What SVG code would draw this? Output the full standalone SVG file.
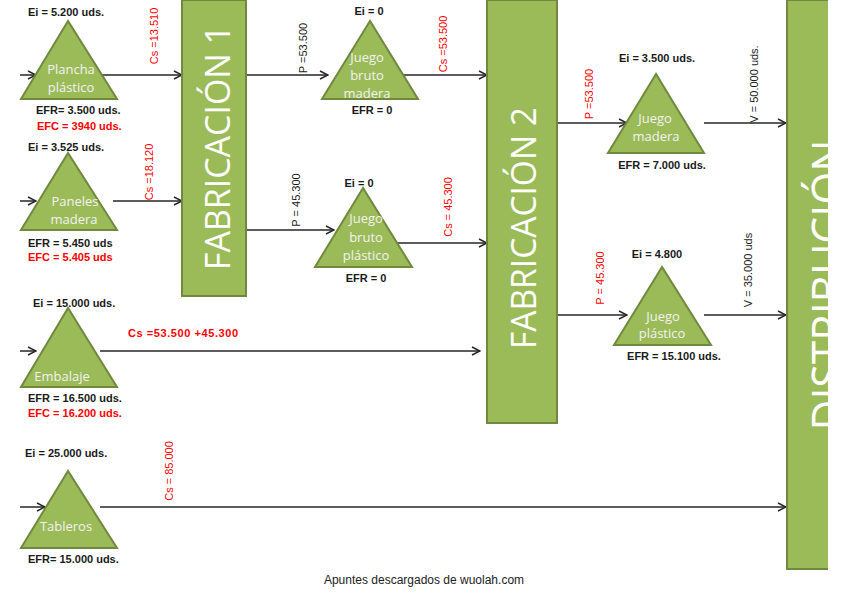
<svg xmlns="http://www.w3.org/2000/svg" width="848" height="599" viewBox="0 0 848 599">
<style>
.tri{fill:#9BBB59;stroke:#71893E;stroke-width:2;stroke-linejoin:miter}
.box{fill:#9BBB59;stroke:#71893E;stroke-width:2}
.tt{font-family:"Open Sans","Liberation Sans",sans-serif;font-size:13px;fill:#F2F2F2;text-anchor:middle}
.big{font-family:"Open Sans","Liberation Sans",sans-serif;font-weight:normal;fill:#FFFFFF;text-anchor:middle}
.lb{font-family:"Liberation Sans",Arial,sans-serif;font-size:11px;font-weight:bold;fill:#1A1A1A}
.rt{font-family:"Liberation Sans",Arial,sans-serif;font-size:11px;fill:#1A1A1A;text-anchor:middle}
.mid{text-anchor:middle}
.ln{stroke:#262626;stroke-width:1.5;fill:none;marker-end:url(#ah)}
.ft{font-family:"Liberation Sans",Arial,sans-serif;font-size:12px;fill:#222;text-anchor:middle}
.red{fill:#FF0000}
</style>
<defs>
<marker id="ah" markerWidth="10" markerHeight="10" refX="9" refY="5" orient="auto" markerUnits="userSpaceOnUse">
<path d="M1,1 L9,5 L1,9" fill="none" stroke="#262626" stroke-width="1.4"/>
</marker>
<clipPath id="pg"><rect x="0" y="0" width="828" height="599"/></clipPath>
</defs>
<rect width="848" height="599" fill="#FFFFFF"/>

<g id="connectors">
<path class="ln" d="M20,75 H36"/>
<path class="ln" d="M100,75 H182"/>
<path class="ln" d="M20,201 H36"/>
<path class="ln" d="M113,201 H182"/>
<path class="ln" d="M20,351 H36"/>
<path class="ln" d="M100,351 H480"/>
<path class="ln" d="M20,507 H45"/>
<path class="ln" d="M100,507 H786"/>
<path class="ln" d="M246,75 H328"/>
<path class="ln" d="M246,230 H334"/>
<path class="ln" d="M403,75 H487"/>
<path class="ln" d="M397,243 H487"/>
<path class="ln" d="M557,123 H627"/>
<path class="ln" d="M557,315 H627"/>
<path class="ln" d="M704,123 H786"/>
<path class="ln" d="M704,315 H786"/>
</g>

<g id="fabricacion1">
<rect class="box" x="182" y="0" width="64" height="296"/>
<text class="big" font-size="34" textLength="245" lengthAdjust="spacingAndGlyphs" transform="translate(230,147.5) rotate(-90)">FABRICACIÓN 1</text>
</g>

<g id="fabricacion2">
<rect class="box" x="487" y="0" width="70" height="423"/>
<text class="big" font-size="34" textLength="242" lengthAdjust="spacingAndGlyphs" transform="translate(536,228) rotate(-90)">FABRICACIÓN 2</text>
</g>

<g id="distribucion" clip-path="url(#pg)">
<rect class="box" x="787" y="0" width="50" height="569"/>
<text class="big" font-size="46" textLength="291" lengthAdjust="spacingAndGlyphs" transform="translate(845,285) rotate(-90)">DISTRIBUCIÓN</text>
</g>

<g id="plancha-plastico">
<polygon class="tri" points="68,21 21,99 117,99"/>
<text class="tt" x="71" y="74">Plancha</text>
<text class="tt" x="71" y="92">plástico</text>
<text class="lb" x="28" y="16">Ei = 5.200 uds.</text>
<text class="lb" x="36" y="114">EFR= 3.500 uds.</text>
<text class="lb red" x="37" y="130">EFC = 3940 uds.</text>
</g>

<g id="paneles-madera">
<polygon class="tri" points="68,153 21,230 117,230"/>
<text class="tt" x="75" y="206">Paneles</text>
<text class="tt" x="74" y="224">madera</text>
<text class="lb" x="28" y="151">Ei = 3.525 uds.</text>
<text class="lb" x="28" y="247">EFR = 5.450 uds</text>
<text class="lb red" x="28" y="261">EFC = 5.405 uds</text>
</g>

<g id="embalaje">
<polygon class="tri" points="68,308 21,387 117,387"/>
<text class="tt" x="62" y="381">Embalaje</text>
<text class="lb" x="33" y="307">Ei = 15.000 uds.</text>
<text class="lb" x="28" y="402">EFR = 16.500 uds.</text>
<text class="lb red" x="28" y="417">EFC = 16.200 uds.</text>
</g>

<g id="tableros">
<polygon class="tri" points="68,471 21,548 117,548"/>
<text class="tt" x="66" y="531">Tableros</text>
<text class="lb" x="25" y="457">Ei = 25.000 uds.</text>
<text class="lb" x="28" y="563">EFR= 15.000 uds.</text>
</g>

<g id="juego-bruto-madera">
<polygon class="tri" points="370,21 322,99 418,99"/>
<text class="tt" x="367" y="62">Juego</text>
<text class="tt" x="367" y="80">bruto</text>
<text class="tt" x="367" y="98">madera</text>
<text class="lb mid" x="369" y="15">Ei = 0</text>
<text class="lb mid" x="372" y="114">EFR = 0</text>
</g>

<g id="juego-bruto-plastico">
<polygon class="tri" points="363,188 315,267 412,267"/>
<text class="tt" x="366" y="223">Juego</text>
<text class="tt" x="366" y="242">bruto</text>
<text class="tt" x="366" y="260">plástico</text>
<text class="lb mid" x="359" y="187">Ei = 0</text>
<text class="lb mid" x="366" y="282">EFR = 0</text>
</g>

<g id="juego-madera">
<polygon class="tri" points="656,74 608,153 704,153"/>
<text class="tt" x="655" y="123">Juego</text>
<text class="tt" x="656" y="141">madera</text>
<text class="lb mid" x="657" y="62">Ei = 3.500 uds.</text>
<text class="lb mid" x="662" y="169">EFR = 7.000 uds.</text>
</g>

<g id="juego-plastico">
<polygon class="tri" points="662,267 614,345 711,345"/>
<text class="tt" x="663" y="321">Juego</text>
<text class="tt" x="662" y="338">plástico</text>
<text class="lb mid" x="657" y="258">Ei = 4.800</text>
<text class="lb mid" x="674" y="360">EFR = 15.100 uds.</text>
</g>

<g id="flow-labels">
<text class="rt red" transform="translate(158,36) rotate(-90)">Cs =13.510</text>
<text class="rt red" transform="translate(153,172) rotate(-90)">Cs =18.120</text>
<text class="rt red" transform="translate(173,471) rotate(-90)">Cs = 85.000</text>
<text class="rt" transform="translate(307,48) rotate(-90)">P =53.500</text>
<text class="rt red" transform="translate(447,44) rotate(-90)">Cs =53.500</text>
<text class="rt" transform="translate(300,200) rotate(-90)">P = 45.300</text>
<text class="rt red" transform="translate(452,207) rotate(-90)">Cs = 45.300</text>
<text class="rt red" transform="translate(593,94) rotate(-90)">P =53.500</text>
<text class="rt" transform="translate(758,84) rotate(-90)">V = 50.000 uds.</text>
<text class="rt red" transform="translate(604,278) rotate(-90)">P = 45.300</text>
<text class="rt" transform="translate(752,270) rotate(-90)">V = 35.000 uds</text>
<text class="lb red" x="128" y="337" textLength="110">Cs =53.500 +45.300</text>
</g>

<text class="ft" x="424" y="584">Apuntes descargados de wuolah.com</text>
</svg>
